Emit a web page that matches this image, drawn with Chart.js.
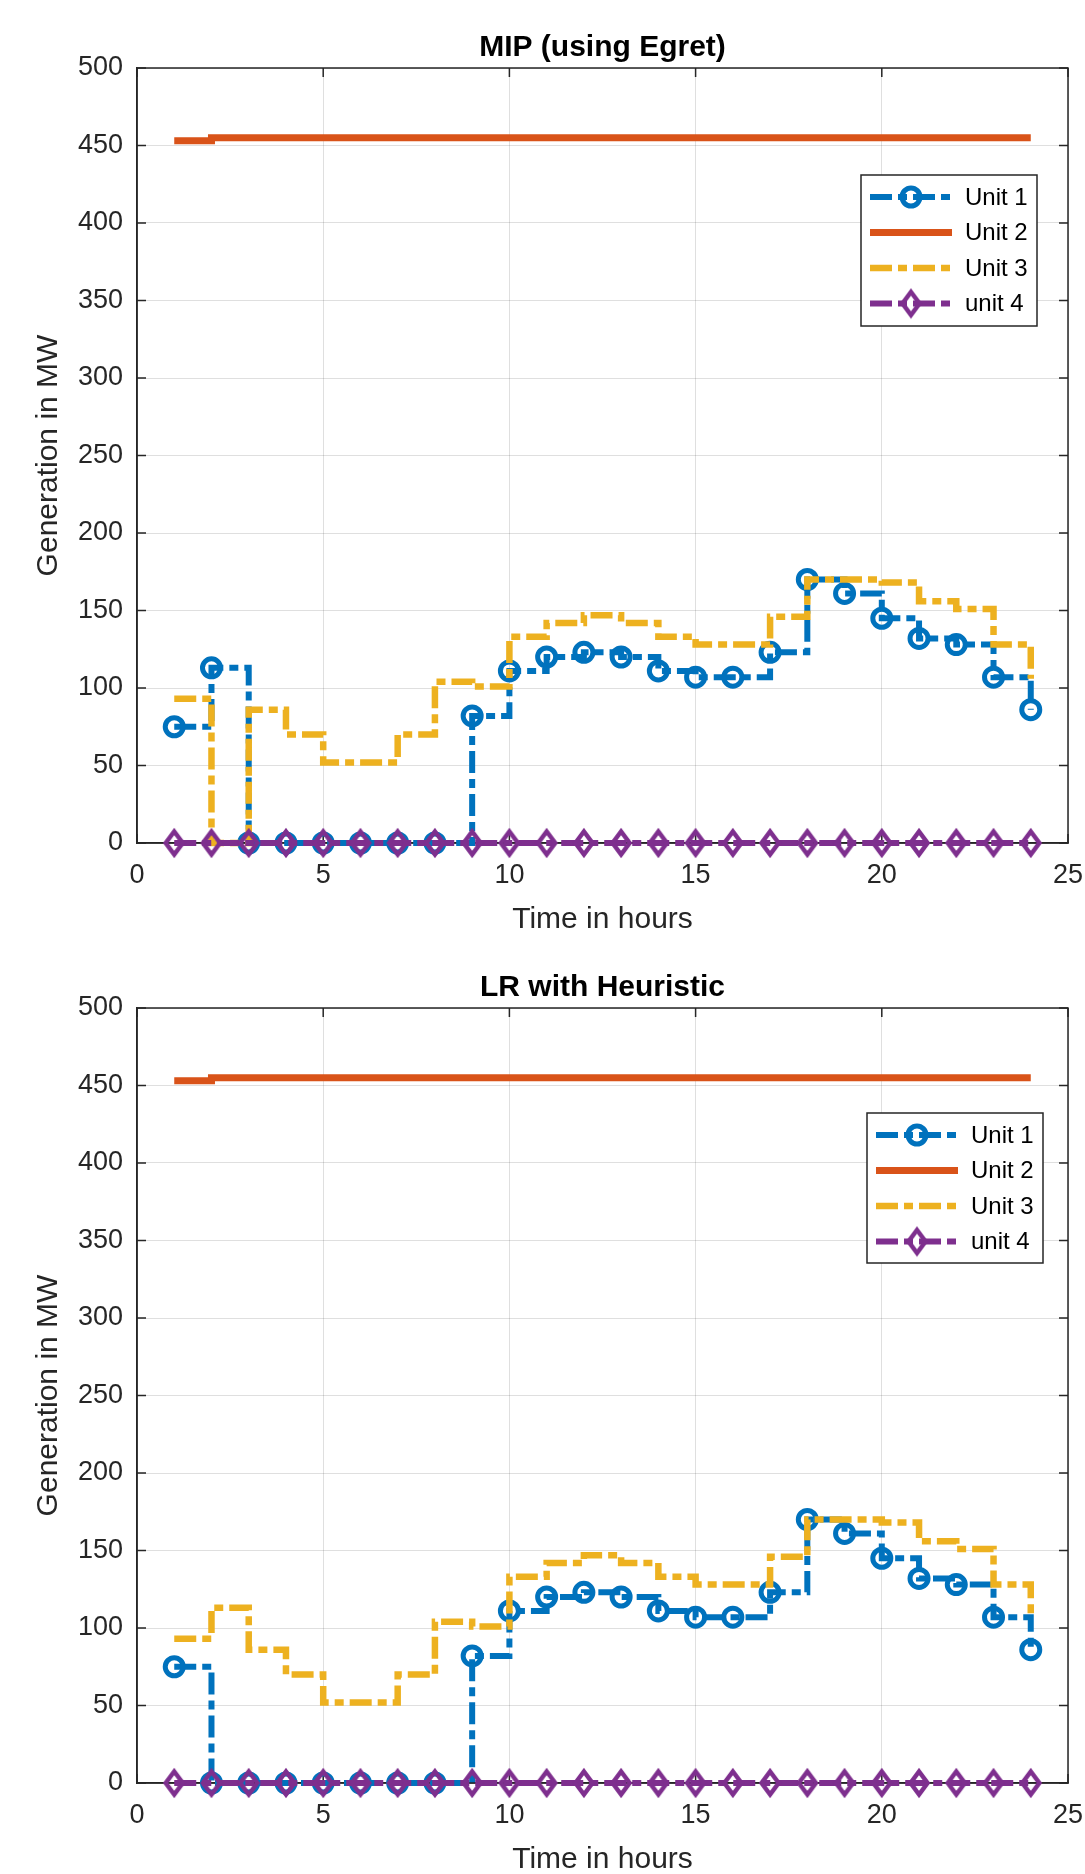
<!DOCTYPE html>
<html>
<head>
<meta charset="utf-8">
<title>Generation per unit</title>
<script src="https://cdn.jsdelivr.net/npm/chart.js@4.4.0/dist/chart.umd.min.js"></script>
<style>
  html, body { margin: 0; padding: 0; background: #fff; overflow: hidden; }
  #wrap { position: relative; width: 1085px; height: 1874px; }
  canvas { position: absolute; left: 0; display: block; }
  #mip { top: 0; }
  #lr { top: 940px; }
</style>
</head>
<body>
<div id="wrap">
  <canvas id="mip" width="1085" height="940"></canvas>
  <canvas id="lr" width="1085" height="940"></canvas>
</div>
<script>
'use strict';

// hours 1..24
let hours = [1, 2, 3, 4, 5, 6, 7, 8, 9, 10, 11, 12, 13, 14, 15, 16, 17, 18, 19, 20, 21, 22, 23, 24];

// MIP (using Egret)
let mipUnit1 = [75, 113, 0, 0, 0, 0, 0, 0, 82, 111, 120, 123, 120, 111, 107, 107, 123, 170, 161, 145, 132, 128, 107, 86];
let mipUnit2 = [453, 455, 455, 455, 455, 455, 455, 455, 455, 455, 455, 455, 455, 455, 455, 455, 455, 455, 455, 455, 455, 455, 455, 455];
let mipUnit3 = [93, 0, 86, 70, 52, 52, 70, 104, 101, 133, 142, 147, 142, 133, 128, 128, 146, 170, 170, 168, 156, 151, 128, 106];
let mipUnit4 = [0, 0, 0, 0, 0, 0, 0, 0, 0, 0, 0, 0, 0, 0, 0, 0, 0, 0, 0, 0, 0, 0, 0, 0];

// LR with Heuristic
let lrUnit1 = [75, 0, 0, 0, 0, 0, 0, 0, 82, 111, 120, 123, 120, 111, 107, 107, 123, 170, 161, 145, 132, 128, 107, 86];
let lrUnit2 = [453, 455, 455, 455, 455, 455, 455, 455, 455, 455, 455, 455, 455, 455, 455, 455, 455, 455, 455, 455, 455, 455, 455, 455];
let lrUnit3 = [93, 113, 86, 70, 52, 52, 70, 104, 101, 133, 142, 147, 142, 133, 128, 128, 146, 170, 170, 168, 156, 151, 128, 106];
let lrUnit4 = [0, 0, 0, 0, 0, 0, 0, 0, 0, 0, 0, 0, 0, 0, 0, 0, 0, 0, 0, 0, 0, 0, 0, 0];

let seriesLabels = ['Unit 1', 'Unit 2', 'Unit 3', 'unit 4'];
let xTickValues = [0, 5, 10, 15, 20, 25];
let yTickValues = [0, 50, 100, 150, 200, 250, 300, 350, 400, 450, 500];

let fontFamily = '"Liberation Sans", Arial, Helvetica, sans-serif';
let axisColor = '#262626';
let gridColor = 'rgba(38, 38, 38, 0.15)';
let blue = '#0072BD';
let orange = '#D95319';
let yellow = '#EDB120';
let purple = '#7E2F8E';
let dashDot = [22, 6, 9, 6];

Chart.defaults.font.family = fontFamily;

function makeDiamond(color) {
  let c = document.createElement('canvas');
  c.width = 28;
  c.height = 32;
  let ctx = c.getContext('2d');
  ctx.strokeStyle = color;
  ctx.lineWidth = 4.5;
  ctx.lineJoin = 'miter';
  ctx.beginPath();
  ctx.moveTo(14, 4.5);
  ctx.lineTo(22.5, 16);
  ctx.lineTo(14, 27.5);
  ctx.lineTo(5.5, 16);
  ctx.closePath();
  ctx.stroke();
  return c;
}
let diamond = makeDiamond(purple);

function toPoints(values) {
  return hours.map((h, i) => ({ x: h, y: values[i] }));
}

function makeDatasets(u1, u2, u3, u4) {
  return [{
    label: seriesLabels[0],
    data: toPoints(u1),
    borderColor: blue,
    borderWidth: 6,
    borderDash: dashDot,
    stepped: true,
    pointStyle: 'circle',
    pointRadius: 9,
    pointBorderWidth: 5,
    pointBorderColor: blue,
    pointBackgroundColor: 'rgba(0,0,0,0)',
    order: 4,
    clip: false
  }, {
    label: seriesLabels[1],
    data: toPoints(u2),
    borderColor: orange,
    borderWidth: 7,
    stepped: true,
    pointRadius: 0,
    order: 3,
    clip: false
  }, {
    label: seriesLabels[2],
    data: toPoints(u3),
    borderColor: yellow,
    borderWidth: 6.5,
    borderDash: dashDot,
    stepped: true,
    pointRadius: 0,
    order: 2,
    clip: false
  }, {
    label: seriesLabels[3],
    data: toPoints(u4),
    borderColor: purple,
    borderWidth: 6,
    borderDash: dashDot,
    stepped: true,
    pointStyle: diamond,
    pointRadius: 11,
    order: 1,
    clip: false
  }];
}

// title centred over the plot area
let axesTitle = {
  id: 'axesTitle',
  afterDraw(chart, args, opts) {
    let ctx = chart.ctx;
    let a = chart.chartArea;
    ctx.save();
    ctx.fillStyle = '#000';
    ctx.font = 'bold 30px ' + fontFamily;
    ctx.textAlign = 'center';
    ctx.textBaseline = 'alphabetic';
    ctx.fillText(opts.text, (a.left + a.right) / 2, a.top - 12);
    ctx.restore();
  }
};

// axes box with inward tick marks, like the original figure
let boxTicks = {
  id: 'boxTicks',
  beforeDatasetsDraw(chart) {
    let ctx = chart.ctx;
    let a = chart.chartArea;
    let xs = chart.scales.x;
    let ys = chart.scales.y;
    let len = 9;
    ctx.save();
    ctx.strokeStyle = axisColor;
    ctx.lineWidth = 1.5;
    ctx.beginPath();
    xs.ticks.forEach(t => {
      let px = xs.getPixelForValue(t.value);
      ctx.moveTo(px, a.bottom);
      ctx.lineTo(px, a.bottom - len);
      ctx.moveTo(px, a.top);
      ctx.lineTo(px, a.top + len);
    });
    ys.ticks.forEach(t => {
      let py = ys.getPixelForValue(t.value);
      ctx.moveTo(a.left, py);
      ctx.lineTo(a.left + len, py);
      ctx.moveTo(a.right, py);
      ctx.lineTo(a.right - len, py);
    });
    ctx.stroke();
    ctx.strokeRect(a.left, a.top, a.right - a.left, a.bottom - a.top);
    ctx.restore();
  }
};

let unitLegend = {
  id: 'unitLegend',
  afterDraw(chart, args, opts) {
    let ctx = chart.ctx;
    let a = chart.chartArea;
    let x0 = a.left + opts.left;
    let y0 = a.top + opts.top;
    ctx.save();
    ctx.fillStyle = '#fff';
    ctx.fillRect(x0, y0, opts.width, opts.height);
    ctx.strokeStyle = axisColor;
    ctx.lineWidth = 1.5;
    ctx.strokeRect(x0, y0, opts.width, opts.height);
    chart.data.datasets.forEach((ds, i) => {
      let y = y0 + 22 + i * 35.5;
      ctx.setLineDash(ds.borderDash || []);
      ctx.strokeStyle = ds.borderColor;
      ctx.lineWidth = ds.borderWidth;
      ctx.beginPath();
      ctx.moveTo(x0 + 9, y);
      ctx.lineTo(x0 + 91, y);
      ctx.stroke();
      ctx.setLineDash([]);
      let mx = x0 + 50;
      if (ds.pointRadius > 0 && ds.pointStyle === 'circle') {
        ctx.lineWidth = ds.pointBorderWidth;
        ctx.beginPath();
        ctx.arc(mx, y, ds.pointRadius, 0, Math.PI * 2);
        ctx.stroke();
      } else if (ds.pointRadius > 0 && typeof ds.pointStyle === 'object') {
        ctx.drawImage(ds.pointStyle, mx - ds.pointStyle.width / 2, y - ds.pointStyle.height / 2);
      }
      ctx.fillStyle = '#000';
      ctx.font = '24px ' + fontFamily;
      ctx.textBaseline = 'middle';
      ctx.textAlign = 'left';
      ctx.fillText(ds.label, x0 + 104, y + 1);
    });
    ctx.restore();
  }
};

function makeOptions(title, legendPos) {
  return {
    responsive: false,
    animation: false,
    events: [],
    layout: { padding: { left: 0, right: 0, top: 68, bottom: 0 } },
    plugins: {
      legend: { display: false },
      tooltip: { enabled: false },
      title: { display: false },
      axesTitle: { text: title },
      unitLegend: legendPos
    },
    scales: {
      x: {
        type: 'linear',
        min: 0,
        max: 25,
        afterBuildTicks: s => { s.ticks = xTickValues.map(v => ({ value: v })); },
        afterFit: s => {
          s.height = 97;
          s.paddingLeft = 0;
          s.paddingRight = 14;
        },
        ticks: { color: axisColor, font: { size: 27 }, padding: 16, maxRotation: 0 },
        grid: { color: gridColor, lineWidth: 1, drawTicks: false },
        border: { color: axisColor, width: 1.5 },
        title: {
          display: true,
          text: 'Time in hours',
          color: axisColor,
          font: { size: 30 },
          padding: { top: 0, bottom: 2 }
        }
      },
      y: {
        type: 'linear',
        min: 0,
        max: 500,
        afterBuildTicks: s => { s.ticks = yTickValues.map(v => ({ value: v })); },
        afterFit: s => {
          s.width = 137;
          s.paddingTop = 0;
          s.paddingBottom = 0;
        },
        ticks: { color: axisColor, font: { size: 27 }, padding: 14 },
        grid: { color: gridColor, lineWidth: 1, drawTicks: false },
        border: { color: axisColor, width: 1.5 },
        title: {
          display: true,
          text: 'Generation in MW',
          color: axisColor,
          font: { size: 30 },
          padding: { top: 31, bottom: 0 }
        }
      }
    }
  };
}

function renderChart(id, title, datasets, legendPos) {
  new Chart(document.getElementById(id), {
    type: 'line',
    data: { datasets: datasets },
    options: makeOptions(title, legendPos),
    plugins: [boxTicks, unitLegend, axesTitle]
  });
}

renderChart('mip', 'MIP (using Egret)',
  makeDatasets(mipUnit1, mipUnit2, mipUnit3, mipUnit4),
  { left: 724, top: 107, width: 176, height: 151 });

renderChart('lr', 'LR with Heuristic',
  makeDatasets(lrUnit1, lrUnit2, lrUnit3, lrUnit4),
  { left: 730, top: 105, width: 176, height: 150 });
</script>
</body>
</html>
